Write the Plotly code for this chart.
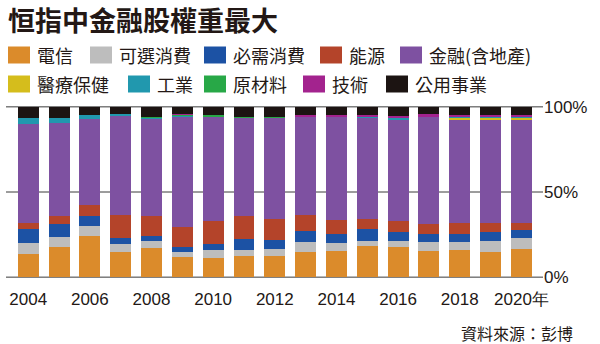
import plotly.graph_objects as go

# Hang Seng Index sector weights (%) by year
years = [str(y) for y in range(2004, 2021)]
sectors = ["電信", "可選消費", "必需消費", "能源", "金融(含地產)",
           "醫療保健", "工業", "原材料", "技術", "公用事業"]

telecom = [13.7, 17.6, 24.0, 15.0, 17.4, 11.7, 11.1, 12.7, 12.3, 14.8, 15.6, 18.4, 17.6, 15.4, 16.2, 14.8, 16.4]
consumer_disc = [6.6, 6.0, 6.1, 4.7, 3.7, 3.1, 4.9, 3.5, 4.5, 6.1, 4.7, 3.1, 3.7, 5.1, 4.7, 6.5, 6.3]
consumer_staples = [7.8, 7.8, 5.6, 3.2, 2.9, 2.8, 3.7, 6.3, 5.3, 6.1, 5.3, 6.6, 5.3, 5.1, 4.7, 5.1, 4.8]
energy = [3.5, 4.3, 6.5, 13.6, 11.7, 11.7, 13.3, 13.4, 12.1, 9.5, 8.0, 5.9, 6.6, 5.8, 6.2, 5.2, 4.3]
finance = [58.6, 54.7, 50.4, 57.9, 57.2, 65.2, 61.1, 57.6, 59.3, 58.0, 60.9, 59.8, 59.5, 62.6, 61.0, 60.8, 60.4]
healthcare = [0, 0, 0, 0, 0, 0, 0, 0, 0, 0, 0, 0, 0, 0, 0.9, 1.4, 1.5]
industrials = [3.3, 3.3, 2.8, 1.6, 0.8, 0.3, 0.5, 0, 0, 0, 0, 0.5, 1.0, 0, 0.3, 0.6, 0.5]
materials = [0, 0, 0, 0, 0.5, 0.6, 0.5, 0.8, 0.8, 0, 0, 0, 0, 0, 0, 0, 0]
tech = [0, 0, 0, 0, 0, 0.5, 0, 0, 0, 0.8, 0.8, 0.8, 1.0, 1.8, 1.3, 0.9, 1.2]
utilities = [6.5, 6.3, 4.6, 4.0, 5.8, 4.1, 4.9, 5.7, 5.7, 4.7, 4.7, 4.9, 5.3, 4.2, 4.7, 4.7, 4.6]

series = [telecom, consumer_disc, consumer_staples, energy, finance,
          healthcare, industrials, materials, tech, utilities]
colors = ["#DB8B2B", "#BDBDBD", "#1C52A4", "#B4442A", "#7E51A1",
          "#D5BD1C", "#2198AE", "#28A847", "#A3238E", "#1C1412"]

tick_years = years[::2]
tick_text = tick_years[:-1] + ["2020年"]
grid_levels = [0, 50, 100]

W, H = 600, 344
L, R, T, B = 6, 57, 106, 66
PW, PH = W - L - R, H - T - B


def px_x(px):
    return (px - L) / PW


def px_y(py):
    return (H - B - py) / PH


fig = go.Figure()
for name, vals, col in zip(sectors, series, colors):
    fig.add_trace(go.Bar(x=years, y=vals, name=name, width=0.68,
                         marker=dict(color=col, line=dict(width=0))))

# horizontal guide lines behind the bars
shapes = [dict(type="line", xref="paper", yref="y", x0=0, x1=1, y0=v, y1=v,
               line=dict(color="#3a3a3a", width=1), layer="below")
          for v in grid_levels]

# hand-placed legend: (swatch left edge px, row)
legend_slots = [(8, 0), (90, 0), (204, 0), (320, 0), (400, 0),
                (8, 1), (128, 1), (204, 1), (303, 1), (386, 1)]
row_mid = [55, 84]
annotations = []
for name, col, (sx, row) in zip(sectors, colors, legend_slots):
    cy = row_mid[row]
    shapes.append(dict(type="rect", xref="paper", yref="paper",
                       x0=px_x(sx), x1=px_x(sx + 22),
                       y0=px_y(cy + 8.5), y1=px_y(cy - 8.5),
                       fillcolor=col, line=dict(width=0), layer="above"))
    annotations.append(dict(text=name, xref="paper", yref="paper",
                            x=px_x(sx + 27), y=px_y(cy), xanchor="left", yanchor="middle",
                            showarrow=False,
                            font=dict(family="Noto Sans CJK TC", size=18, color="#231815")))

annotations.append(dict(text="<b>恒指中金融股權重最大</b>", xref="paper", yref="paper",
                        x=px_x(6), y=px_y(19), xanchor="left", yanchor="middle",
                        showarrow=False,
                        font=dict(family="Noto Sans CJK TC", size=27, color="#231815")))
annotations.append(dict(text="資料來源：彭博", xref="paper", yref="paper",
                        x=px_x(574), y=px_y(333), xanchor="right", yanchor="middle",
                        showarrow=False, borderpad=0,
                        font=dict(family="Noto Sans CJK TC", size=16, color="#231815")))

fig.update_layout(
    width=W, height=H, barmode="stack", showlegend=False,
    margin=dict(l=L, r=R, t=T, b=B),
    paper_bgcolor="white", plot_bgcolor="white",
    shapes=shapes, annotations=annotations,
    xaxis=dict(type="category", range=[-0.72, 16.7], tickvals=tick_years, ticktext=tick_text,
               ticks="outside", ticklen=6, tickcolor="rgba(0,0,0,0)", showgrid=False,
               showline=False, zeroline=False,
               tickfont=dict(family="Liberation Sans, Arial", size=17, color="#231815")),
    yaxis=dict(range=[-0.5, 100.5], side="right", tickvals=grid_levels,
               ticktext=["0%", "50%", "100%"], showgrid=False,
               zeroline=False, showline=False, ticks="",
               tickfont=dict(family="Liberation Sans, Arial", size=17, color="#231815")),
)

fig.write_html("out.html")
